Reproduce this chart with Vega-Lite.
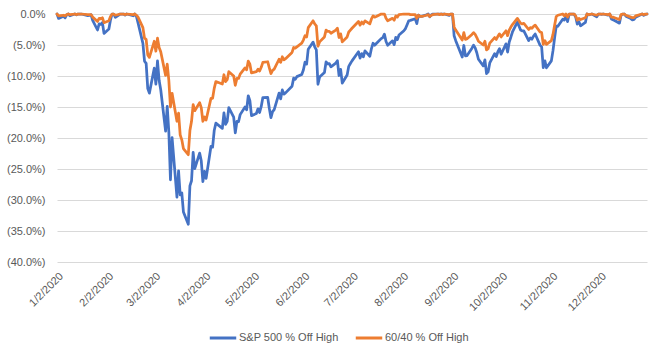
{
"$schema": "https://vega.github.io/schema/vega-lite/v6.json",
"width": 590, "height": 248,
"autosize": {"type": "none"},
"padding": {"left": 57, "top": 14, "right": 25, "bottom": 95},
"background": "white",
"config": {"view": {"stroke": null}, "font": "Liberation Sans, sans-serif"},
"data": {"values": [
{"d":"2020-01-02","sp":0,"b":0},{"d":"2020-01-03","sp":-0.71,"b":-0.3},{"d":"2020-01-06","sp":-0.36,"b":-0.2},{"d":"2020-01-07","sp":-0.63,"b":-0.3},{"d":"2020-01-08","sp":-0.15,"b":-0.1},{"d":"2020-01-09","sp":0,"b":0},{"d":"2020-01-10","sp":-0.29,"b":-0.1},{"d":"2020-01-13","sp":0,"b":0},{"d":"2020-01-14","sp":-0.15,"b":-0.1},{"d":"2020-01-15","sp":0,"b":0},{"d":"2020-01-16","sp":0,"b":0},{"d":"2020-01-17","sp":0,"b":0},{"d":"2020-01-21","sp":-0.27,"b":-0.1},{"d":"2020-01-22","sp":-0.24,"b":-0.1},{"d":"2020-01-23","sp":-0.12,"b":-0.1},{"d":"2020-01-24","sp":-1.03,"b":-0.5},{"d":"2020-01-27","sp":-2.58,"b":-1.2},{"d":"2020-01-28","sp":-1.6,"b":-0.7},{"d":"2020-01-29","sp":-1.69,"b":-0.8},{"d":"2020-01-30","sp":-1.38,"b":-0.6},{"d":"2020-01-31","sp":-3.13,"b":-1.4},
{"d":"2020-02-03","sp":-2.42,"b":-1.1},{"d":"2020-02-04","sp":-0.96,"b":-0.4},{"d":"2020-02-05","sp":0,"b":0},{"d":"2020-02-06","sp":0,"b":0},{"d":"2020-02-07","sp":-0.54,"b":-0.2},{"d":"2020-02-10","sp":0,"b":0},{"d":"2020-02-11","sp":0,"b":0},{"d":"2020-02-12","sp":0,"b":0},{"d":"2020-02-13","sp":-0.16,"b":-0.1},{"d":"2020-02-14","sp":0,"b":0},{"d":"2020-02-18","sp":-0.29,"b":-0.1},{"d":"2020-02-19","sp":0,"b":0},{"d":"2020-02-20","sp":-0.38,"b":-0.2},{"d":"2020-02-21","sp":-1.43,"b":-0.5},{"d":"2020-02-24","sp":-4.73,"b":-2.2},{"d":"2020-02-25","sp":-7.62,"b":-3.9},{"d":"2020-02-26","sp":-7.97,"b":-4.1},{"d":"2020-02-27","sp":-12.03,"b":-6.6},{"d":"2020-02-28","sp":-12.76,"b":-7.0},
{"d":"2020-03-02","sp":-8.74,"b":-4.4},{"d":"2020-03-03","sp":-11.3,"b":-6.0},{"d":"2020-03-04","sp":-7.56,"b":-3.9},{"d":"2020-03-05","sp":-10.7,"b":-5.4},{"d":"2020-03-06","sp":-12.22,"b":-6.1},{"d":"2020-03-09","sp":-18.89,"b":-9.9},{"d":"2020-03-10","sp":-14.88,"b":-8.1},{"d":"2020-03-11","sp":-19.04,"b":-10.7},{"d":"2020-03-12","sp":-26.74,"b":-15.0},{"d":"2020-03-13","sp":-19.94,"b":-12.8},{"d":"2020-03-16","sp":-29.53,"b":-17.3},{"d":"2020-03-17","sp":-25.31,"b":-16.0},{"d":"2020-03-18","sp":-29.18,"b":-19.5},{"d":"2020-03-19","sp":-28.85,"b":-20.3},{"d":"2020-03-20","sp":-31.93,"b":-21.7},{"d":"2020-03-23","sp":-33.92,"b":-22.7},{"d":"2020-03-24","sp":-27.73,"b":-18.8},{"d":"2020-03-25","sp":-26.89,"b":-17.3},{"d":"2020-03-26","sp":-22.33,"b":-14.6},{"d":"2020-03-27","sp":-24.95,"b":-15.6},{"d":"2020-03-30","sp":-22.43,"b":-14.3},{"d":"2020-03-31","sp":-23.67,"b":-15.1},
{"d":"2020-04-01","sp":-27.04,"b":-17.3},{"d":"2020-04-02","sp":-25.38,"b":-16.6},{"d":"2020-04-03","sp":-26.51,"b":-17.1},{"d":"2020-04-06","sp":-21.34,"b":-13.6},{"d":"2020-04-07","sp":-21.46,"b":-13.6},{"d":"2020-04-08","sp":-18.79,"b":-12.0},{"d":"2020-04-09","sp":-17.61,"b":-10.9},{"d":"2020-04-13","sp":-18.44,"b":-11.3},{"d":"2020-04-14","sp":-15.95,"b":-9.8},{"d":"2020-04-15","sp":-17.8,"b":-10.9},{"d":"2020-04-16","sp":-17.32,"b":-10.6},{"d":"2020-04-17","sp":-15.11,"b":-9.3},{"d":"2020-04-20","sp":-16.63,"b":-10.0},{"d":"2020-04-21","sp":-19.18,"b":-11.5},{"d":"2020-04-22","sp":-17.33,"b":-10.4},{"d":"2020-04-23","sp":-17.38,"b":-10.4},{"d":"2020-04-24","sp":-16.23,"b":-9.7},{"d":"2020-04-27","sp":-14.99,"b":-8.7},{"d":"2020-04-28","sp":-15.44,"b":-9.0},{"d":"2020-04-29","sp":-13.19,"b":-7.6},{"d":"2020-04-30","sp":-13.99,"b":-8.1},
{"d":"2020-05-01","sp":-16.4,"b":-9.5},{"d":"2020-05-04","sp":-16.05,"b":-9.3},{"d":"2020-05-05","sp":-15.29,"b":-8.9},{"d":"2020-05-06","sp":-15.88,"b":-9.2},{"d":"2020-05-07","sp":-14.91,"b":-8.6},{"d":"2020-05-08","sp":-13.48,"b":-7.8},{"d":"2020-05-11","sp":-13.46,"b":-7.7},{"d":"2020-05-12","sp":-15.24,"b":-8.7},{"d":"2020-05-13","sp":-16.72,"b":-9.6},{"d":"2020-05-14","sp":-15.76,"b":-9.1},{"d":"2020-05-15","sp":-15.43,"b":-8.9},{"d":"2020-05-18","sp":-12.77,"b":-7.3},{"d":"2020-05-19","sp":-13.68,"b":-7.8},{"d":"2020-05-20","sp":-12.24,"b":-6.9},{"d":"2020-05-21","sp":-12.92,"b":-7.4},{"d":"2020-05-22","sp":-12.72,"b":-7.2},{"d":"2020-05-26","sp":-11.65,"b":-6.2},{"d":"2020-05-27","sp":-10.34,"b":-5.4},{"d":"2020-05-28","sp":-10.53,"b":-5.5},{"d":"2020-05-29","sp":-10.1,"b":-5.3},
{"d":"2020-06-01","sp":-9.76,"b":-4.7},{"d":"2020-06-02","sp":-9.02,"b":-4.2},{"d":"2020-06-03","sp":-7.78,"b":-3.5},{"d":"2020-06-04","sp":-8.09,"b":-3.7},{"d":"2020-06-05","sp":-5.68,"b":-2.2},{"d":"2020-06-08","sp":-4.54,"b":-1.1},{"d":"2020-06-09","sp":-5.29,"b":-1.6},{"d":"2020-06-10","sp":-5.79,"b":-1.9},{"d":"2020-06-11","sp":-11.34,"b":-5.2},{"d":"2020-06-12","sp":-10.18,"b":-4.5},{"d":"2020-06-15","sp":-9.44,"b":-3.7},{"d":"2020-06-16","sp":-7.72,"b":-2.6},{"d":"2020-06-17","sp":-8.05,"b":-2.8},{"d":"2020-06-18","sp":-8.0,"b":-2.8},{"d":"2020-06-19","sp":-8.52,"b":-3.1},{"d":"2020-06-22","sp":-7.92,"b":-2.6},{"d":"2020-06-23","sp":-7.53,"b":-2.3},{"d":"2020-06-24","sp":-9.92,"b":-3.8},{"d":"2020-06-25","sp":-8.93,"b":-3.2},{"d":"2020-06-26","sp":-11.14,"b":-4.5},{"d":"2020-06-29","sp":-9.83,"b":-3.7},{"d":"2020-06-30","sp":-8.44,"b":-2.9},
{"d":"2020-07-01","sp":-7.98,"b":-2.6},{"d":"2020-07-02","sp":-7.56,"b":-2.3},{"d":"2020-07-06","sp":-6.1,"b":-1.2},{"d":"2020-07-07","sp":-7.11,"b":-1.8},{"d":"2020-07-08","sp":-6.39,"b":-1.3},{"d":"2020-07-09","sp":-6.91,"b":-1.6},{"d":"2020-07-10","sp":-5.94,"b":-1.1},{"d":"2020-07-13","sp":-6.82,"b":-1.6},{"d":"2020-07-14","sp":-5.57,"b":-0.8},{"d":"2020-07-15","sp":-4.71,"b":-0.3},{"d":"2020-07-16","sp":-5.04,"b":-0.5},{"d":"2020-07-17","sp":-4.77,"b":-0.4},{"d":"2020-07-20","sp":-3.97,"b":0},{"d":"2020-07-21","sp":-3.81,"b":0},{"d":"2020-07-22","sp":-3.25,"b":0},{"d":"2020-07-23","sp":-4.44,"b":-0.7},{"d":"2020-07-24","sp":-5.04,"b":-1.1},{"d":"2020-07-27","sp":-4.33,"b":-0.7},{"d":"2020-07-28","sp":-4.95,"b":-1.0},{"d":"2020-07-29","sp":-3.77,"b":-0.3},{"d":"2020-07-30","sp":-4.13,"b":-0.5},{"d":"2020-07-31","sp":-3.4,"b":-0.1},
{"d":"2020-08-03","sp":-2.7,"b":0},{"d":"2020-08-04","sp":-2.35,"b":0},{"d":"2020-08-05","sp":-1.72,"b":0},{"d":"2020-08-06","sp":-1.09,"b":0},{"d":"2020-08-07","sp":-1.03,"b":-0.1},{"d":"2020-08-10","sp":-0.76,"b":-0.1},{"d":"2020-08-11","sp":-1.55,"b":-0.7},{"d":"2020-08-12","sp":-0.17,"b":-0.2},{"d":"2020-08-13","sp":-0.38,"b":-0.4},{"d":"2020-08-14","sp":-0.39,"b":-0.4},{"d":"2020-08-17","sp":-0.12,"b":-0.2},{"d":"2020-08-18","sp":0,"b":-0.1},{"d":"2020-08-19","sp":-0.44,"b":-0.4},{"d":"2020-08-20","sp":-0.13,"b":-0.2},{"d":"2020-08-21","sp":0,"b":-0.1},{"d":"2020-08-24","sp":0,"b":0},{"d":"2020-08-25","sp":0,"b":-0.1},{"d":"2020-08-26","sp":0,"b":0},{"d":"2020-08-27","sp":0,"b":-0.1},{"d":"2020-08-28","sp":0,"b":0},{"d":"2020-08-31","sp":-0.22,"b":-0.1},
{"d":"2020-09-01","sp":0,"b":0},{"d":"2020-09-02","sp":0,"b":0},{"d":"2020-09-03","sp":-3.51,"b":-2.1},{"d":"2020-09-04","sp":-4.3,"b":-2.6},{"d":"2020-09-08","sp":-6.95,"b":-4.2},{"d":"2020-09-09","sp":-5.08,"b":-3.0},{"d":"2020-09-10","sp":-6.75,"b":-4.1},{"d":"2020-09-11","sp":-6.7,"b":-4.0},{"d":"2020-09-14","sp":-5.51,"b":-3.3},{"d":"2020-09-15","sp":-5.02,"b":-3.0},{"d":"2020-09-16","sp":-5.46,"b":-3.3},{"d":"2020-09-17","sp":-6.25,"b":-3.8},{"d":"2020-09-18","sp":-7.3,"b":-4.4},{"d":"2020-09-21","sp":-8.37,"b":-5.0},{"d":"2020-09-22","sp":-7.41,"b":-4.4},{"d":"2020-09-23","sp":-9.6,"b":-5.8},{"d":"2020-09-24","sp":-9.33,"b":-5.6},{"d":"2020-09-25","sp":-7.89,"b":-4.7},{"d":"2020-09-28","sp":-6.4,"b":-3.8},{"d":"2020-09-29","sp":-6.85,"b":-4.1},{"d":"2020-09-30","sp":-6.08,"b":-3.6},
{"d":"2020-10-01","sp":-5.59,"b":-3.2},{"d":"2020-10-02","sp":-6.49,"b":-3.7},{"d":"2020-10-05","sp":-4.81,"b":-2.7},{"d":"2020-10-06","sp":-6.14,"b":-3.5},{"d":"2020-10-07","sp":-4.51,"b":-2.6},{"d":"2020-10-08","sp":-3.74,"b":-2.1},{"d":"2020-10-09","sp":-2.9,"b":-1.7},{"d":"2020-10-12","sp":-1.3,"b":-0.7},{"d":"2020-10-13","sp":-1.92,"b":-1.1},{"d":"2020-10-14","sp":-2.57,"b":-1.5},{"d":"2020-10-15","sp":-2.72,"b":-1.6},{"d":"2020-10-16","sp":-2.71,"b":-1.5},{"d":"2020-10-19","sp":-4.3,"b":-2.5},{"d":"2020-10-20","sp":-3.85,"b":-2.2},{"d":"2020-10-21","sp":-4.06,"b":-2.3},{"d":"2020-10-22","sp":-3.56,"b":-2.0},{"d":"2020-10-23","sp":-3.22,"b":-1.8},{"d":"2020-10-26","sp":-5.02,"b":-2.9},{"d":"2020-10-27","sp":-5.31,"b":-3.0},{"d":"2020-10-28","sp":-8.65,"b":-4.9},{"d":"2020-10-29","sp":-7.56,"b":-4.3},{"d":"2020-10-30","sp":-8.68,"b":-4.9},
{"d":"2020-11-02","sp":-7.56,"b":-4.3},{"d":"2020-11-03","sp":-5.91,"b":-3.3},{"d":"2020-11-04","sp":-3.84,"b":-1.8},{"d":"2020-11-05","sp":-1.97,"b":-0.4},{"d":"2020-11-06","sp":-1.99,"b":-0.2},{"d":"2020-11-09","sp":-0.85,"b":0},{"d":"2020-11-10","sp":-0.99,"b":-0.3},{"d":"2020-11-11","sp":-0.23,"b":0},{"d":"2020-11-12","sp":-1.22,"b":-0.5},{"d":"2020-11-13","sp":0,"b":0},{"d":"2020-11-16","sp":0,"b":0},{"d":"2020-11-17","sp":-0.48,"b":-0.3},{"d":"2020-11-18","sp":-1.63,"b":-1.0},{"d":"2020-11-19","sp":-1.24,"b":-0.7},{"d":"2020-11-20","sp":-1.91,"b":-0.9},{"d":"2020-11-23","sp":-1.36,"b":-0.6},{"d":"2020-11-24","sp":0,"b":0},{"d":"2020-11-25","sp":-0.16,"b":-0.1},{"d":"2020-11-27","sp":0,"b":0},{"d":"2020-11-30","sp":-0.46,"b":-0.2},
{"d":"2020-12-01","sp":0,"b":0},{"d":"2020-12-02","sp":0,"b":0},{"d":"2020-12-03","sp":-0.06,"b":0},{"d":"2020-12-04","sp":0,"b":0},{"d":"2020-12-07","sp":-0.19,"b":-0.1},{"d":"2020-12-08","sp":0,"b":0},{"d":"2020-12-09","sp":-0.79,"b":-0.5},{"d":"2020-12-10","sp":-0.92,"b":-0.5},{"d":"2020-12-11","sp":-1.05,"b":-0.6},{"d":"2020-12-14","sp":-1.48,"b":-0.9},{"d":"2020-12-15","sp":-0.21,"b":-0.1},{"d":"2020-12-16","sp":-0.03,"b":0},{"d":"2020-12-17","sp":0,"b":0},{"d":"2020-12-18","sp":-0.35,"b":-0.2},{"d":"2020-12-21","sp":-0.74,"b":-0.5},{"d":"2020-12-22","sp":-0.95,"b":-0.6},{"d":"2020-12-23","sp":-0.87,"b":-0.6},{"d":"2020-12-24","sp":-0.52,"b":-0.3},{"d":"2020-12-28","sp":0,"b":0},{"d":"2020-12-29","sp":-0.22,"b":-0.1},{"d":"2020-12-30","sp":-0.09,"b":0},{"d":"2020-12-31","sp":0,"b":0}
]},
"transform": [{"fold": ["sp", "b"], "as": ["series", "value"]}],
"mark": {"type": "line", "strokeWidth": 2.75, "strokeJoin": "round", "strokeCap": "round"},
"encoding": {
"x": {"field": "d", "type": "temporal",
 "scale": {"type": "utc", "domain": [{"year": 2020, "month": 1, "date": 2, "utc": true}, {"year": 2020, "month": 12, "date": 31, "utc": true}]},
 "axis": {"title": null, "grid": false, "ticks": false, "domain": false, "labelAngle": -45, "labelPadding": 8, "labelFontSize": 11, "labelColor": "#595959", "labelOverlap": false, "labelFlush": false, "labelBound": false,
  "values": [{"year":2020,"month":1,"date":2,"utc":true},{"year":2020,"month":2,"date":2,"utc":true},{"year":2020,"month":3,"date":2,"utc":true},{"year":2020,"month":4,"date":2,"utc":true},{"year":2020,"month":5,"date":2,"utc":true},{"year":2020,"month":6,"date":2,"utc":true},{"year":2020,"month":7,"date":2,"utc":true},{"year":2020,"month":8,"date":2,"utc":true},{"year":2020,"month":9,"date":2,"utc":true},{"year":2020,"month":10,"date":2,"utc":true},{"year":2020,"month":11,"date":2,"utc":true},{"year":2020,"month":12,"date":2,"utc":true}],
  "labelExpr": "utcFormat(datum.value, '%-m/%-d/%Y')"}},
"y": {"field": "value", "type": "quantitative",
 "scale": {"domain": [-40, 0], "nice": false, "zero": false},
 "axis": {"title": null, "values": [0, -5, -10, -15, -20, -25, -30, -35, -40], "grid": true, "gridColor": "#d9d9d9", "gridWidth": 1, "ticks": false, "domain": false, "labelPadding": 12, "labelFontSize": 11, "labelColor": "#595959",
  "labelExpr": "datum.value == 0 ? '0.0%' : '(' + format(abs(datum.value), '.1f') + '%)'"}},
"color": {"field": "series", "type": "nominal",
 "scale": {"domain": ["sp", "b"], "range": ["#4472C4", "#ED7D31"]},
 "legend": {"title": null, "orient": "none", "legendX": 151, "legendY": 309, "direction": "horizontal", "symbolType": "stroke", "symbolStrokeWidth": 3, "symbolSize": 700, "labelFontSize": 11, "labelColor": "#595959", "columnPadding": 10, "labelOffset": 1, "labelLimit": 200,
  "labelExpr": "datum.label == 'sp' ? 'S&P 500 % Off High' : '60/40 % Off High'"}}
}
}
